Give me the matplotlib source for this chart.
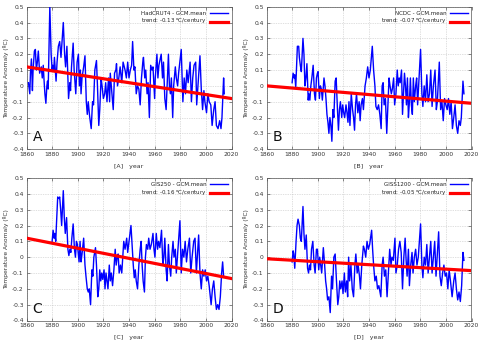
import matplotlib
matplotlib.use("Agg")
import matplotlib.pyplot as plt
import numpy as np

# ---------------- data ----------------
px_A = [86, 90, 92, 95, 98, 100, 104, 107, 110, 113, 116, 120, 125, 128, 131, 133, 136, 139, 142, 144, 146, 151,
        155, 158, 160, 163, 165, 170, 173, 177, 181, 185, 192, 196, 199, 203, 208, 212, 214, 217, 222, 225, 230,
        234, 238, 241, 244, 246, 249, 254, 258, 262, 265, 268, 272, 277, 281, 284, 288, 293, 296, 300, 303, 307,
        310, 314, 318, 321, 325, 328, 330, 333, 335, 340, 344, 348, 352, 354, 357, 361, 365, 370, 374, 380, 384,
        388, 392, 396, 400, 403, 407, 410, 414, 418, 422, 426, 430, 434, 436, 440, 443, 447, 450, 454, 458, 462,
        465, 470, 472, 477, 480, 483, 490, 494, 497, 501, 505, 512, 515, 518, 521, 525, 528, 533, 536, 540, 543,
        551, 556, 560, 564, 568, 572, 578, 582, 586, 590, 595, 598, 602, 608, 612, 616, 620, 623, 628, 632, 636,
        641, 645, 650, 654, 658, 663, 668, 672, 675, 678, 680, 682]
val_A = [0.02, -0.05, 0.08, 0.17, -0.03, 0.10, 0.22, 0.23, 0.10, 0.15, 0.22, 0.08, 0.12, 0.05, 0.13, 0.05, -0.05,
         -0.11, 0.00, 0.03, -0.02, 0.50, 0.20, 0.10, 0.13, 0.10, 0.18, 0.03, 0.15, 0.25, 0.28, 0.18, 0.40, 0.20,
         0.12, 0.25, -0.08, 0.02, -0.03, 0.12, 0.27, 0.10, -0.05, 0.15, 0.20, 0.00, 0.10, -0.05, 0.05, 0.12, 0.19,
         -0.10, -0.18, -0.10, -0.19, -0.27, -0.10, -0.12, 0.10, 0.16, 0.00, -0.25, -0.15, 0.05, 0.00, -0.08, -0.05,
         0.02, -0.10, 0.00, 0.05, -0.10, 0.08, -0.05, -0.15, 0.08, 0.10, 0.14, 0.00, 0.05, 0.12, 0.02, 0.15, 0.10,
         0.05, 0.15, 0.05, 0.10, 0.13, 0.28, 0.10, 0.12, -0.05, 0.00, -0.02, -0.12, 0.05, 0.15, 0.18, 0.05, 0.10,
         -0.05, 0.02, -0.20, 0.13, 0.10, 0.12, -0.08, 0.05, 0.20, 0.05, 0.13, 0.20, 0.05, 0.15, -0.08, -0.15, 0.20,
         0.00, -0.05, 0.05, -0.20, 0.00, 0.12, 0.05, 0.00, 0.08, 0.23, -0.10, 0.05, -0.05, 0.10, 0.02, 0.15, -0.10,
         0.05, 0.13, 0.15, -0.12, 0.00, 0.19, -0.02, -0.15, -0.03, -0.10, -0.17, -0.05, -0.10, -0.12, -0.25, -0.15,
         -0.10, -0.25, -0.27, -0.22, -0.27, -0.20, -0.05, 0.05, -0.05]

px_B = [158, 161, 164, 166, 169, 171, 174, 178, 180, 183, 186, 191, 194, 197, 200, 203, 207, 209, 212, 215, 218,
        222, 226, 229, 232, 235, 237, 241, 244, 247, 250, 255, 258, 261, 264, 267, 270, 273, 276, 279, 282, 285,
        289, 292, 296, 299, 302, 305, 309, 312, 315, 318, 322, 325, 328, 331, 334, 338, 342, 345, 348, 351, 354,
        358, 362, 365, 368, 372, 375, 380, 384, 388, 392, 396, 402, 406, 410, 413, 417, 421, 425, 429, 432, 435,
        438, 442, 446, 450, 453, 456, 460, 463, 467, 470, 474, 478, 481, 484, 487, 491, 494, 497, 500, 503, 506,
        509, 512, 515, 518, 521, 524, 527, 530, 534, 537, 540, 549, 553, 556, 560, 564, 568, 572, 576, 580, 584,
        588, 593, 597, 600, 606, 610, 614, 618, 622, 626, 630, 634, 638, 642, 646, 650, 654, 658, 662, 666, 670,
        673, 678, 681]
val_B = [0.02, 0.08, 0.05, 0.07, -0.01, 0.10, 0.25, 0.25, 0.18, 0.13, 0.09, 0.30, 0.20, 0.00, 0.05, 0.14, -0.09,
         -0.05, -0.09, 0.00, 0.05, 0.13, -0.05, -0.09, 0.05, 0.08, 0.09, -0.08, 0.00, -0.02, -0.09, 0.05, 0.00,
         -0.08, -0.18, -0.23, -0.30, -0.20, -0.25, -0.35, -0.15, -0.20, 0.03, 0.05, -0.15, -0.28, -0.15, -0.10,
         -0.20, -0.12, -0.17, -0.20, -0.12, -0.17, -0.23, -0.10, -0.25, -0.05, -0.15, -0.20, -0.28, -0.12, -0.05,
         -0.17, -0.10, -0.22, -0.12, -0.08, -0.15, 0.00, 0.05, 0.12, 0.05, 0.10, 0.25, 0.10, 0.00, -0.13, -0.15,
         -0.12, -0.18, -0.27, 0.00, 0.02, -0.12, -0.08, -0.30, -0.10, 0.05, 0.00, -0.05, -0.02, 0.05, -0.12, -0.05,
         0.10, 0.00, 0.05, 0.02, 0.10, -0.18, -0.05, 0.08, 0.00, -0.12, 0.05, -0.20, -0.10, 0.05, -0.12, -0.18,
         0.05, -0.10, 0.00, 0.05, -0.12, 0.23, -0.05, -0.13, 0.00, -0.10, 0.07, -0.10, -0.05, 0.10, -0.13, 0.00,
         0.10, -0.15, -0.10, 0.15, -0.15, -0.10, -0.22, -0.08, -0.12, -0.15, -0.08, -0.18, -0.10, -0.27, -0.20,
         -0.12, -0.25, -0.30, -0.22, -0.25, -0.20, 0.03, -0.05]

px_C = [158, 161, 164, 166, 169, 171, 175, 179, 181, 184, 187, 192, 195, 198, 202, 206, 209, 212, 215, 218, 222,
        226, 229, 232, 235, 240, 243, 246, 249, 254, 258, 261, 265, 268, 271, 275, 279, 282, 285, 290, 293, 297,
        300, 303, 306, 309, 312, 316, 319, 322, 325, 328, 332, 335, 338, 342, 346, 350, 353, 356, 359, 362, 366,
        370, 376, 380, 385, 388, 392, 398, 402, 405, 408, 411, 414, 418, 422, 426, 429, 432, 435, 439, 442, 445,
        449, 452, 456, 460, 465, 468, 471, 475, 479, 482, 486, 491, 495, 498, 501, 505, 508, 512, 515, 519, 522,
        526, 529, 533, 536, 547, 551, 555, 559, 563, 567, 571, 576, 580, 584, 589, 593, 597, 604, 608, 612, 616,
        620, 624, 628, 632, 636, 642, 646, 650, 654, 658, 662, 666, 670, 674, 677, 680]
val_C = [0.10, 0.17, 0.12, 0.15, 0.10, 0.20, 0.38, 0.37, 0.38, 0.30, 0.20, 0.42, 0.25, 0.15, 0.25, 0.05, 0.01,
         0.05, 0.03, 0.12, 0.21, 0.05, 0.00, 0.10, 0.08, -0.03, 0.10, -0.03, 0.02, 0.12, -0.05, -0.12, -0.20,
         -0.22, -0.20, -0.30, -0.08, -0.12, 0.00, 0.06, -0.05, -0.25, -0.20, -0.08, -0.15, -0.10, -0.14, -0.08,
         -0.20, -0.10, -0.15, -0.20, -0.05, -0.15, -0.10, -0.18, -0.08, 0.05, -0.05, 0.00, 0.02, -0.10, -0.05,
         -0.10, 0.10, 0.05, 0.12, 0.03, 0.10, 0.20, 0.05, -0.05, -0.13, -0.08, -0.15, -0.20, -0.05, 0.05, 0.10,
         -0.05, -0.15, -0.22, 0.00, 0.08, 0.05, 0.12, 0.05, 0.08, 0.15, 0.05, 0.00, 0.15, 0.05, 0.10, 0.06, 0.17,
         -0.05, 0.00, 0.12, -0.08, -0.15, 0.08, -0.05, -0.12, 0.00, 0.10, 0.00, 0.05, -0.10, 0.23, -0.10, 0.05,
         0.00, 0.10, -0.03, 0.05, 0.12, -0.10, 0.00, 0.10, 0.12, -0.10, 0.14, -0.10, -0.20, -0.08, -0.12, -0.08,
         -0.15, -0.12, -0.18, -0.30, -0.20, -0.15, -0.25, -0.33, -0.30, -0.33, -0.25, -0.10, -0.03, -0.12]

px_D = [158, 161, 163, 166, 170, 173, 176, 180, 183, 186, 191, 194, 197, 201, 205, 208, 211, 214, 217, 221, 225,
        228, 232, 235, 239, 242, 245, 248, 253, 257, 260, 263, 266, 270, 274, 278, 281, 285, 289, 293, 297, 300,
        303, 306, 310, 313, 317, 320, 324, 327, 330, 333, 337, 341, 345, 349, 352, 356, 359, 363, 366, 370, 375,
        378, 382, 386, 390, 394, 400, 403, 406, 410, 414, 418, 422, 428, 432, 435, 439, 443, 447, 451, 455, 459,
        462, 466, 471, 474, 478, 482, 486, 490, 494, 498, 502, 505, 508, 512, 515, 519, 523, 526, 530, 534, 538,
        542, 549, 553, 556, 560, 564, 568, 572, 576, 580, 584, 588, 592, 596, 604, 608, 612, 616, 620, 624, 628,
        632, 636, 640, 645, 650, 654, 658, 662, 666, 670, 674, 678, 681]
val_D = [-0.03, 0.04, 0.02, -0.07, 0.10, 0.20, 0.24, 0.20, 0.12, 0.10, 0.32, 0.15, 0.05, 0.14, -0.07, -0.10, -0.05,
         -0.08, 0.05, 0.10, -0.05, -0.10, 0.05, 0.05, -0.08, 0.00, -0.05, -0.10, 0.06, -0.05, -0.15, -0.20, -0.27,
         -0.25, -0.35, -0.12, -0.20, 0.00, 0.02, -0.15, -0.30, -0.25, -0.15, -0.20, -0.15, -0.23, -0.10, -0.22,
         -0.15, -0.25, 0.00, -0.15, -0.05, -0.20, -0.25, -0.05, 0.02, -0.10, -0.05, -0.12, -0.20, -0.05, 0.07,
         0.05, 0.00, 0.10, 0.05, 0.08, 0.17, 0.05, -0.05, -0.15, -0.12, -0.20, -0.18, -0.25, -0.05, 0.00, -0.12,
         -0.08, -0.25, -0.10, 0.05, -0.05, 0.00, -0.02, 0.12, -0.10, -0.05, 0.05, 0.10, 0.03, -0.20, 0.00, 0.12,
         -0.02, -0.12, 0.05, -0.18, -0.05, 0.03, -0.10, 0.00, 0.05, -0.05, 0.00, 0.21, -0.05, -0.13, 0.00, -0.05,
         0.08, -0.10, 0.00, 0.10, -0.10, 0.00, 0.10, -0.12, 0.16, -0.12, -0.18, -0.10, -0.05, -0.12, -0.10, -0.20,
         -0.08, -0.15, -0.25, -0.15, -0.10, -0.20, -0.27, -0.22, -0.28, -0.18, 0.03, -0.02]

# trend line end points (1860, 2020)
trend_years = [1860, 2020]
trend_A = [0.12, -0.08]
trend_B = [0.0, -0.11]
trend_C = [0.12, -0.135]
trend_D = [-0.01, -0.085]

names = ["HadCRUT4 - GCM.mean", "NCDC - GCM.mean", "GIS250 - GCM.mean", "GISS1200 - GCM.mean"]
trend_labels = ["-0.13", "-0.07", "-0.16", "-0.05"]
letters = ["A", "B", "C", "D"]


def to_year(px):
    # reading scale of the zoomed picture: 1860 at 80, 3.9 px per year
    return [1860 + (p - 80) / 3.9 for p in px]


series = [(px_A, val_A, trend_A), (px_B, val_B, trend_B), (px_C, val_C, trend_C), (px_D, val_D, trend_D)]

fig = plt.figure(figsize=(4.8, 3.43), dpi=100)
W, H = 480.0, 343.0
boxes = [(26.5, 6.7), (266.5, 6.7), (26.5, 178), (266.5, 178)]
aw, ah = 205, 142.5

for i, (px, vals, tr) in enumerate(series):
    x0, y0 = boxes[i]
    ax = fig.add_axes([x0 / W, 1 - (y0 + ah) / H, aw / W, ah / H])
    ax.plot(to_year(px), vals, color="#0000ff", lw=1.0, label=names[i], zorder=3)
    ax.plot(trend_years, tr, color="#ff0000", lw=2.3,
            label="trend: " + trend_labels[i] + " $^{\\rm o}$C/century", zorder=4)
    ax.set_xlim(1860, 2020)
    ax.set_ylim(-0.4, 0.5)
    ax.set_xticks(np.arange(1860, 2021, 20))
    yt = np.round(np.arange(-0.4, 0.51, 0.1), 1)
    ax.set_yticks(yt)
    ax.set_yticklabels(["0" if abs(v) < 1e-9 else ("%g" % v) for v in yt])
    ax.grid(True, color="#c0c0c0", linestyle=(0, (1, 1.5)), lw=0.5)
    ax.tick_params(direction="in", length=2, width=0.4, labelsize=4.3, colors="#333333",
                   top=True, right=True, pad=2)
    for s in ax.spines.values():
        s.set_linewidth(0.5)
        s.set_color("#555555")
    ax.set_ylabel("Temperature Anomaly (ºC)", fontsize=4.3, color="#333333", labelpad=2)
    ax.set_xlabel("[" + letters[i] + "]   year", fontsize=4.5, color="#333333", labelpad=5)
    ax.text(0.03, 0.035, letters[i], transform=ax.transAxes, fontsize=10, color="#111111",
            ha="left", va="bottom")
    leg = ax.legend(loc="upper right", frameon=False, fontsize=4, markerfirst=False,
                    handlelength=3.2, handletextpad=0.6, labelspacing=0.3, borderaxespad=0.3)
    for t in leg.get_texts():
        t.set_color("#222222")
        t.set_ha("right")

fig.savefig("out.png", dpi=100, facecolor="white")
